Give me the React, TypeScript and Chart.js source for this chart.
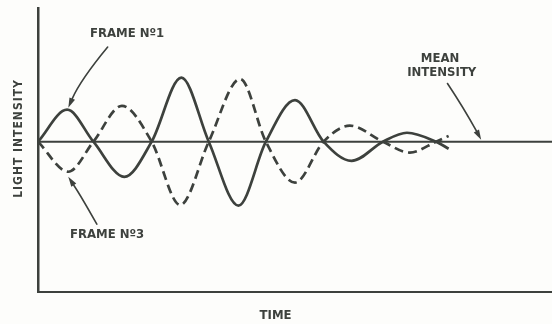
import { useEffect, useRef } from "react";
import { Chart, registerables } from "chart.js";

Chart.register(...registerables);

// ---- data (time in half-cycles, intensity relative to the mean) ----
const frame1Time = [0, 0.51, 0.97, 1.51, 1.99, 2.51, 2.99, 3.51, 3.99, 4.5, 5.0, 5.49, 6.04, 6.46, 6.97, 7.19];
const frame1Intensity = [0, 0.5, 0, -0.55, 0, 1.0, 0, -1.0, 0, 0.65, 0, -0.3, 0, 0.14, 0, -0.11];
const frame3Time = [0, 0.53, 0.97, 1.47, 1.99, 2.49, 2.99, 3.54, 3.99, 4.5, 5.0, 5.46, 6.04, 6.51, 6.97, 7.19];
const frame3Intensity = [0, -0.47, 0, 0.56, 0, -0.99, 0, 0.98, 0, -0.64, 0, 0.25, 0, -0.17, 0, 0.09];
const meanTime = [0, 9.0];
const meanIntensity = [0, 0];

const timeRange = [0, 9.0];
const intensityRange = [-2.35, 2.09];

const axisTitleX = "TIME";
const axisTitleY = "LIGHT INTENSITY";

const noteTexts = ["FRAME Nº1", "FRAME Nº3", "MEAN", "INTENSITY"];
const noteTime = [1.56, 1.21, 7.04, 7.07];
const noteIntensity = [1.69, -1.45, 1.3, 1.08];

const arrowFromTime = [1.22, 1.03, 7.17];
const arrowFromIntensity = [1.48, -1.29, 0.91];
const arrowCtrlTime = [0.74, 0.76, 7.46];
const arrowCtrlIntensity = [0.96, -0.86, 0.52];
const arrowToTime = [0.53, 0.53, 7.76];
const arrowToIntensity = [0.53, -0.55, 0.03];

const INK = "#3d413d";
const PAPER = "#fdfdfb";
const FONT = '"DejaVu Sans Condensed", "DejaVu Sans", sans-serif';

const toPoints = (xs: number[], ys: number[]) => xs.map((x, i) => ({ x, y: ys[i] }));

const annotationPlugin = {
  id: "annotations",
  afterDraw(chart: any) {
    const { ctx, scales, chartArea } = chart;
    const xs = scales.x;
    const ys = scales.y;
    ctx.save();
    ctx.fillStyle = INK;
    ctx.strokeStyle = INK;
    ctx.textAlign = "center";
    ctx.textBaseline = "middle";
    ctx.font = `bold 13px ${FONT}`;
    noteTexts.forEach((t, i) => {
      ctx.fillText(t, xs.getPixelForValue(noteTime[i]), ys.getPixelForValue(noteIntensity[i]));
    });
    // axis titles
    ctx.fillText(axisTitleX, xs.getPixelForValue(4.16), chartArea.bottom + 24);
    ctx.save();
    ctx.translate(chartArea.left - 19, ys.getPixelForValue(0.05));
    ctx.rotate(-Math.PI / 2);
    ctx.font = `bold 12px ${FONT}`;
    (ctx as any).letterSpacing = "1px";
    ctx.fillText(axisTitleY, 0, 0);
    ctx.restore();

    // arrows
    ctx.lineWidth = 1.6;
    ctx.lineCap = "round";
    arrowFromTime.forEach((_, i) => {
      const x0 = xs.getPixelForValue(arrowFromTime[i]);
      const y0 = ys.getPixelForValue(arrowFromIntensity[i]);
      const cx = xs.getPixelForValue(arrowCtrlTime[i]);
      const cy = ys.getPixelForValue(arrowCtrlIntensity[i]);
      const x1 = xs.getPixelForValue(arrowToTime[i]);
      const y1 = ys.getPixelForValue(arrowToIntensity[i]);
      const ang = Math.atan2(y1 - cy, x1 - cx);
      const headLen = 10;
      const headW = 3;
      const bx = x1 - headLen * Math.cos(ang);
      const by = y1 - headLen * Math.sin(ang);
      ctx.beginPath();
      ctx.moveTo(x0, y0);
      ctx.quadraticCurveTo(cx, cy, bx, by);
      ctx.stroke();
      ctx.beginPath();
      ctx.moveTo(x1, y1);
      ctx.lineTo(bx + headW * Math.sin(ang), by - headW * Math.cos(ang));
      ctx.lineTo(bx - headW * Math.sin(ang), by + headW * Math.cos(ang));
      ctx.closePath();
      ctx.fill();
    });
    ctx.restore();
  },
};

export default function App() {
  const ref = useRef<HTMLCanvasElement | null>(null);
  useEffect(() => {
    if (!ref.current) return;
    const chart = new Chart(ref.current, {
      type: "line",
      data: {
        datasets: [
          {
            data: toPoints(meanTime, meanIntensity),
            borderColor: INK,
            borderWidth: 2,
            pointRadius: 0,
            tension: 0,
          },
          {
            data: toPoints(frame3Time, frame3Intensity),
            borderColor: INK,
            borderWidth: 2.7,
            borderDash: [9, 5],
            pointRadius: 0,
            cubicInterpolationMode: "monotone",
          },
          {
            data: toPoints(frame1Time, frame1Intensity),
            borderColor: INK,
            borderWidth: 2.7,
            pointRadius: 0,
            cubicInterpolationMode: "monotone",
          },
        ],
      },
      options: {
        animation: false,
        responsive: false,
        maintainAspectRatio: false,
        events: [],
        layout: { padding: { left: 38, top: 8, right: 0, bottom: 32 } },
        plugins: { legend: { display: false }, tooltip: { enabled: false } },
        scales: {
          x: {
            type: "linear",
            min: timeRange[0],
            max: timeRange[1],
            grid: { display: false, drawTicks: false },
            ticks: { display: false },
            border: { display: true, color: INK, width: 2 },
          },
          y: {
            type: "linear",
            min: intensityRange[0],
            max: intensityRange[1],
            grid: { display: false, drawTicks: false },
            ticks: { display: false },
            border: { display: true, color: INK, width: 2.5 },
          },
        },
      },
      plugins: [annotationPlugin],
    } as any);
    return () => chart.destroy();
  }, []);
  return (
    <div style={{ position: "fixed", left: 0, top: 0, width: 552, height: 324, background: PAPER }}>
      <canvas ref={ref} width={552} height={324} />
    </div>
  );
}
